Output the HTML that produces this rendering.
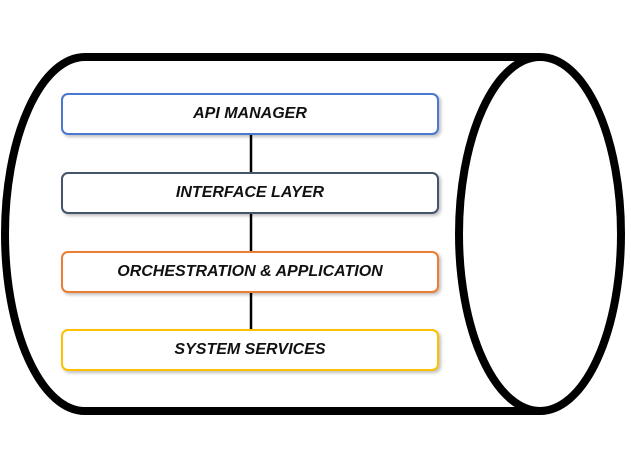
<!DOCTYPE html>
<html><head><style>
body{margin:0;background:#fff;width:631px;height:469px;overflow:hidden}
.b{position:absolute;left:61px;width:374px;height:38px;border:2.5px solid;border-radius:7px;background:#fff;box-shadow:2px 2px 3px rgba(0,0,0,.25);font:italic bold 16px "Liberation Sans",sans-serif;color:#111;display:flex;align-items:center;justify-content:center}
</style></head><body>
<svg width="631" height="469" style="position:absolute;left:0;top:0">
<path d="M540,57 L85,57 A80,177 0 0 0 85,411 L540,411" fill="none" stroke="#000" stroke-width="8"/>
<ellipse cx="540" cy="234" rx="81" ry="177" fill="none" stroke="#000" stroke-width="8"/>
<line x1="251" y1="134" x2="251" y2="330" stroke="#000" stroke-width="2.5"/>
</svg>
<div class="b" style="top:93px;border-color:#4a78d0">API MANAGER</div>
<div class="b" style="top:172px;border-color:#44546a">INTERFACE LAYER</div>
<div class="b" style="top:251px;border-color:#ed7d31">ORCHESTRATION &amp; APPLICATION</div>
<div class="b" style="top:329px;border-color:#ffc000">SYSTEM SERVICES</div>
</body></html>
